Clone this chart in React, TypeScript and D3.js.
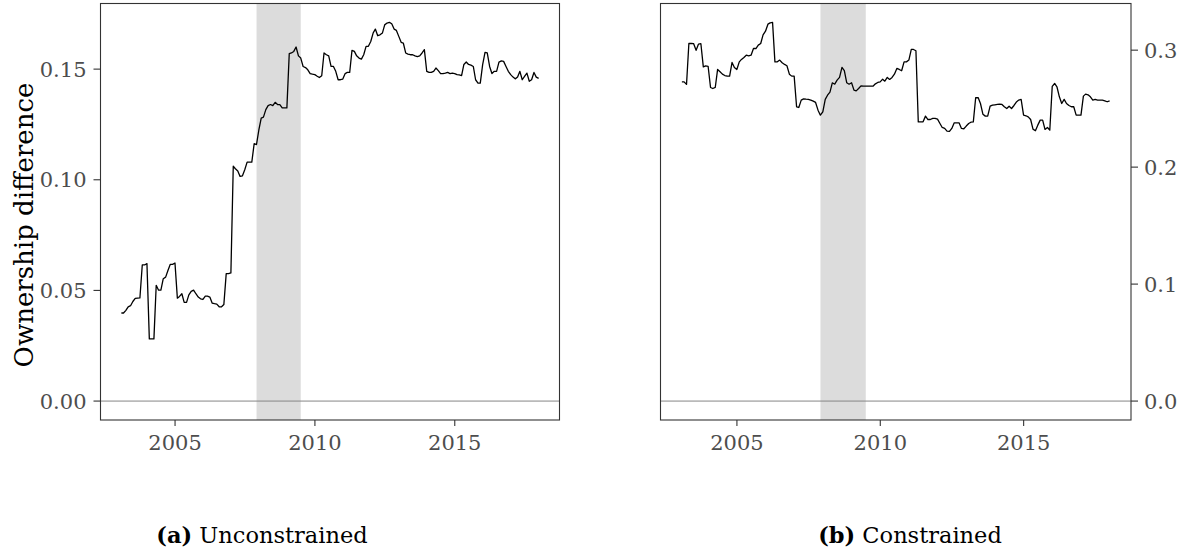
import React from "react";
import * as d3 from "d3";

// Monthly series, January 2003 – December 2017 (month-end observations)
const START_YEAR = 2003;

const unconstrained: number[] = [
  0.0398, 0.0398, 0.041, 0.0426, 0.0431, 0.045, 0.0464, 0.0465, 0.0466, 0.0615, 0.0615, 0.0621,
  0.0281, 0.0281, 0.0281, 0.0523, 0.0501, 0.0501, 0.0553, 0.056, 0.059, 0.0618, 0.0618, 0.0624,
  0.0465, 0.0473, 0.0485, 0.0446, 0.0446, 0.048, 0.0496, 0.0501, 0.0485, 0.047, 0.0462, 0.0459,
  0.0474, 0.0474, 0.047, 0.0443, 0.044, 0.0438, 0.0426, 0.0426, 0.0436, 0.0576, 0.0576, 0.0579,
  0.1061, 0.105, 0.104, 0.1015, 0.1018, 0.1045, 0.108, 0.108, 0.108, 0.1163, 0.1159, 0.1225,
  0.1279, 0.1283, 0.1317, 0.1335, 0.134, 0.1335, 0.135, 0.134, 0.134, 0.1325, 0.1325, 0.1325,
  0.157, 0.1573, 0.158, 0.16, 0.156, 0.155, 0.1512, 0.1507, 0.1497, 0.148, 0.1477, 0.1475,
  0.1468, 0.1462, 0.147, 0.1573, 0.1565, 0.156, 0.1512, 0.1512, 0.149, 0.1452, 0.1452, 0.1455,
  0.148, 0.1485, 0.1485, 0.1585, 0.158, 0.156, 0.155, 0.1545, 0.1565, 0.1603, 0.1603, 0.1625,
  0.1663, 0.1681, 0.1651, 0.1655, 0.1663, 0.17, 0.1708, 0.1711, 0.1705, 0.1681, 0.1675, 0.1648,
  0.1621, 0.1618, 0.1573, 0.1568, 0.1565, 0.1565, 0.156, 0.1557, 0.156, 0.1573, 0.1588, 0.149,
  0.1485, 0.1485, 0.149, 0.1505, 0.1493, 0.148, 0.148, 0.1482, 0.1485, 0.148, 0.1482, 0.148,
  0.1475, 0.1474, 0.1471, 0.1521, 0.1532, 0.1521, 0.1518, 0.1512, 0.1452, 0.1437, 0.1437, 0.152,
  0.1576, 0.1573, 0.1512, 0.148, 0.149, 0.149, 0.1532, 0.1537, 0.1535, 0.1512, 0.149, 0.1475,
  0.1464, 0.1456, 0.1464, 0.149, 0.1452, 0.1467, 0.1482, 0.1445, 0.1452, 0.1485, 0.1464, 0.1458,
];

const constrained: number[] = [
  0.2729, 0.2729, 0.2707, 0.3057, 0.3057, 0.3055, 0.2999, 0.3052, 0.3055, 0.2857, 0.2865, 0.2862,
  0.2681, 0.2672, 0.2681, 0.2835, 0.2815, 0.2795, 0.2783, 0.2778, 0.2778, 0.2895, 0.2852, 0.2835,
  0.29, 0.2921, 0.2938, 0.2957, 0.2952, 0.2957, 0.3014, 0.3014, 0.3043, 0.3057, 0.313, 0.3162,
  0.3222, 0.3233, 0.3237, 0.29, 0.29, 0.2915, 0.2892, 0.2878, 0.2867, 0.2795, 0.2778, 0.2778,
  0.2516, 0.251, 0.2573, 0.2584, 0.2581, 0.2579, 0.2573, 0.2564, 0.2553, 0.2487, 0.2444, 0.2473,
  0.2579, 0.2615, 0.2641, 0.2721, 0.2709, 0.2744, 0.2767, 0.2852, 0.2824, 0.2721, 0.2709, 0.2721,
  0.2658, 0.2652, 0.2672, 0.2695, 0.2692, 0.2692, 0.2692, 0.2692, 0.2692, 0.2712, 0.2724, 0.2729,
  0.2752, 0.2735, 0.2767, 0.275, 0.2767, 0.2795, 0.2844, 0.2835, 0.2824, 0.29, 0.29, 0.2915,
  0.3006, 0.3006, 0.2995, 0.2387, 0.2387, 0.2387, 0.2436, 0.2407, 0.2407, 0.2416, 0.2416, 0.241,
  0.2373, 0.2339, 0.2331, 0.2308, 0.2305, 0.2331, 0.2379, 0.2379, 0.2379, 0.2331, 0.2328, 0.2351,
  0.2373, 0.2384, 0.2387, 0.2593, 0.2595, 0.2544, 0.2453, 0.2436, 0.2436, 0.2521, 0.253, 0.2533,
  0.2536, 0.2538, 0.2536, 0.2516, 0.2501, 0.2521, 0.2501, 0.2527, 0.2556, 0.2573, 0.2579, 0.2444,
  0.2439, 0.243, 0.2407, 0.2325, 0.2311, 0.2359, 0.2402, 0.2402, 0.2322, 0.2339, 0.2316, 0.269,
  0.2715, 0.2687, 0.2601, 0.2544, 0.2579, 0.2544, 0.2527, 0.2516, 0.2516, 0.2444, 0.2444, 0.2444,
  0.2607, 0.2624, 0.2618, 0.2601, 0.2573, 0.2579, 0.2573, 0.2573, 0.2573, 0.2567, 0.2559, 0.2567,
];

// NBER recession: December 2007 – June 2009
const recessionStart = new Date(2007, 11, 1);
const recessionEnd = new Date(2009, 5, 30);

const yearTicks: number[] = [2005, 2010, 2015];
const leftTicks: number[] = [0, 0.05, 0.1, 0.15];
const rightTicks: number[] = [0, 0.1, 0.2, 0.3];

const yTitle = "Ownership difference";
const captionA = { label: "(a)", text: " Unconstrained" };
const captionB = { label: "(b)", text: " Constrained" };

const W = 1189;
const H = 554;
const FONT = "'DejaVu Serif', serif";
const TICK_COLOR = "#333333";
const LABEL_COLOR = "#4d4d4d";

type Pt = { date: Date; value: number };

const toPoints = (vals: number[]): Pt[] =>
  vals.map((v, i) => ({ date: new Date(START_YEAR, i + 1, 0), value: v }));

// ggplot-style 5% expansion around the data (and the zero line)
function expandDomain(lo: number, hi: number, mult = 0.05): [number, number] {
  const r = hi - lo;
  return [lo - r * mult, hi + r * mult];
}

interface PanelProps {
  x0: number;
  x1: number;
  y0: number;
  y1: number;
  values: number[];
  ticks: number[];
  fmt: string;
  side: "left" | "right";
}

function Panel({ x0, x1, y0, y1, values, ticks, fmt, side }: PanelProps) {
  const pts = toPoints(values);
  const tExt = d3.extent(pts, (d) => +d.date) as [number, number];
  const [t0, t1] = expandDomain(tExt[0], tExt[1]);
  const x = d3.scaleTime().domain([new Date(t0), new Date(t1)]).range([x0, x1]);
  const vmax = d3.max(values) as number;
  const y = d3.scaleLinear().domain(expandDomain(0, vmax)).range([y1, y0]);
  const line = d3
    .line<Pt>()
    .x((d) => x(d.date))
    .y((d) => y(d.value));
  const f = d3.format(fmt);
  const tickLen = 7;

  return (
    <g>
      <rect
        x={x(recessionStart)}
        y={y0}
        width={x(recessionEnd) - x(recessionStart)}
        height={y1 - y0}
        fill="#dcdcdc"
      />
      <line x1={x0} x2={x1} y1={y(0)} y2={y(0)} stroke="#858585" strokeWidth={1} />
      <path d={line(pts) || ""} fill="none" stroke="#000" strokeWidth={1.3} strokeLinejoin="round" />
      <rect
        x={x0}
        y={y0}
        width={x1 - x0}
        height={y1 - y0}
        fill="none"
        stroke={TICK_COLOR}
        strokeWidth={1.1}
      />
      {yearTicks.map((yr) => {
        const px = x(new Date(yr, 0, 1));
        return (
          <g key={yr}>
            <line x1={px} x2={px} y1={y1} y2={y1 + tickLen - 1} stroke={TICK_COLOR} strokeWidth={1.1} />
            <text
              x={px}
              y={y1 + 30}
              textAnchor="middle"
              fontFamily={FONT}
              fontSize={21}
              fill={LABEL_COLOR}
            >
              {yr}
            </text>
          </g>
        );
      })}
      {ticks.map((t) => {
        const py = y(t);
        const left = side === "left";
        const xa = left ? x0 : x1;
        const xb = left ? x0 - tickLen : x1 + tickLen;
        return (
          <g key={t}>
            <line x1={xa} x2={xb} y1={py} y2={py} stroke={TICK_COLOR} strokeWidth={1.1} />
            <text
              x={left ? x0 - 14 : x1 + 13}
              y={py}
              dy="0.36em"
              textAnchor={left ? "end" : "start"}
              fontFamily={FONT}
              fontSize={21}
              fill={LABEL_COLOR}
            >
              {f(t)}
            </text>
          </g>
        );
      })}
    </g>
  );
}

function Caption({ cx, label, text }: { cx: number; label: string; text: string }) {
  return (
    <text x={cx} y={543} textAnchor="middle" fontFamily={FONT} fontSize={22.5} fill="#000">
      <tspan fontWeight="bold">{label}</tspan>
      <tspan>{text}</tspan>
    </text>
  );
}

export default function App() {
  return (
    <svg
      width={W}
      height={H}
      viewBox={`0 0 ${W} ${H}`}
      style={{ position: "absolute", left: 0, top: 0, background: "#fff" }}
    >
      <rect width={W} height={H} fill="#fff" />
      <Panel x0={100.5} x1={559.5} y0={3.5} y1={420} values={unconstrained} ticks={leftTicks} fmt=".2f" side="left" />
      <Panel x0={660.5} x1={1131} y0={3.5} y1={420} values={constrained} ticks={rightTicks} fmt=".1f" side="right" />
      <text
        transform={`translate(33, 225) rotate(-90)`}
        textAnchor="middle"
        fontFamily={FONT}
        fontSize={26}
        fill="#000"
      >
        {yTitle}
      </text>
      <Caption cx={262} label={captionA.label} text={captionA.text} />
      <Caption cx={910} label={captionB.label} text={captionB.text} />
    </svg>
  );
}
